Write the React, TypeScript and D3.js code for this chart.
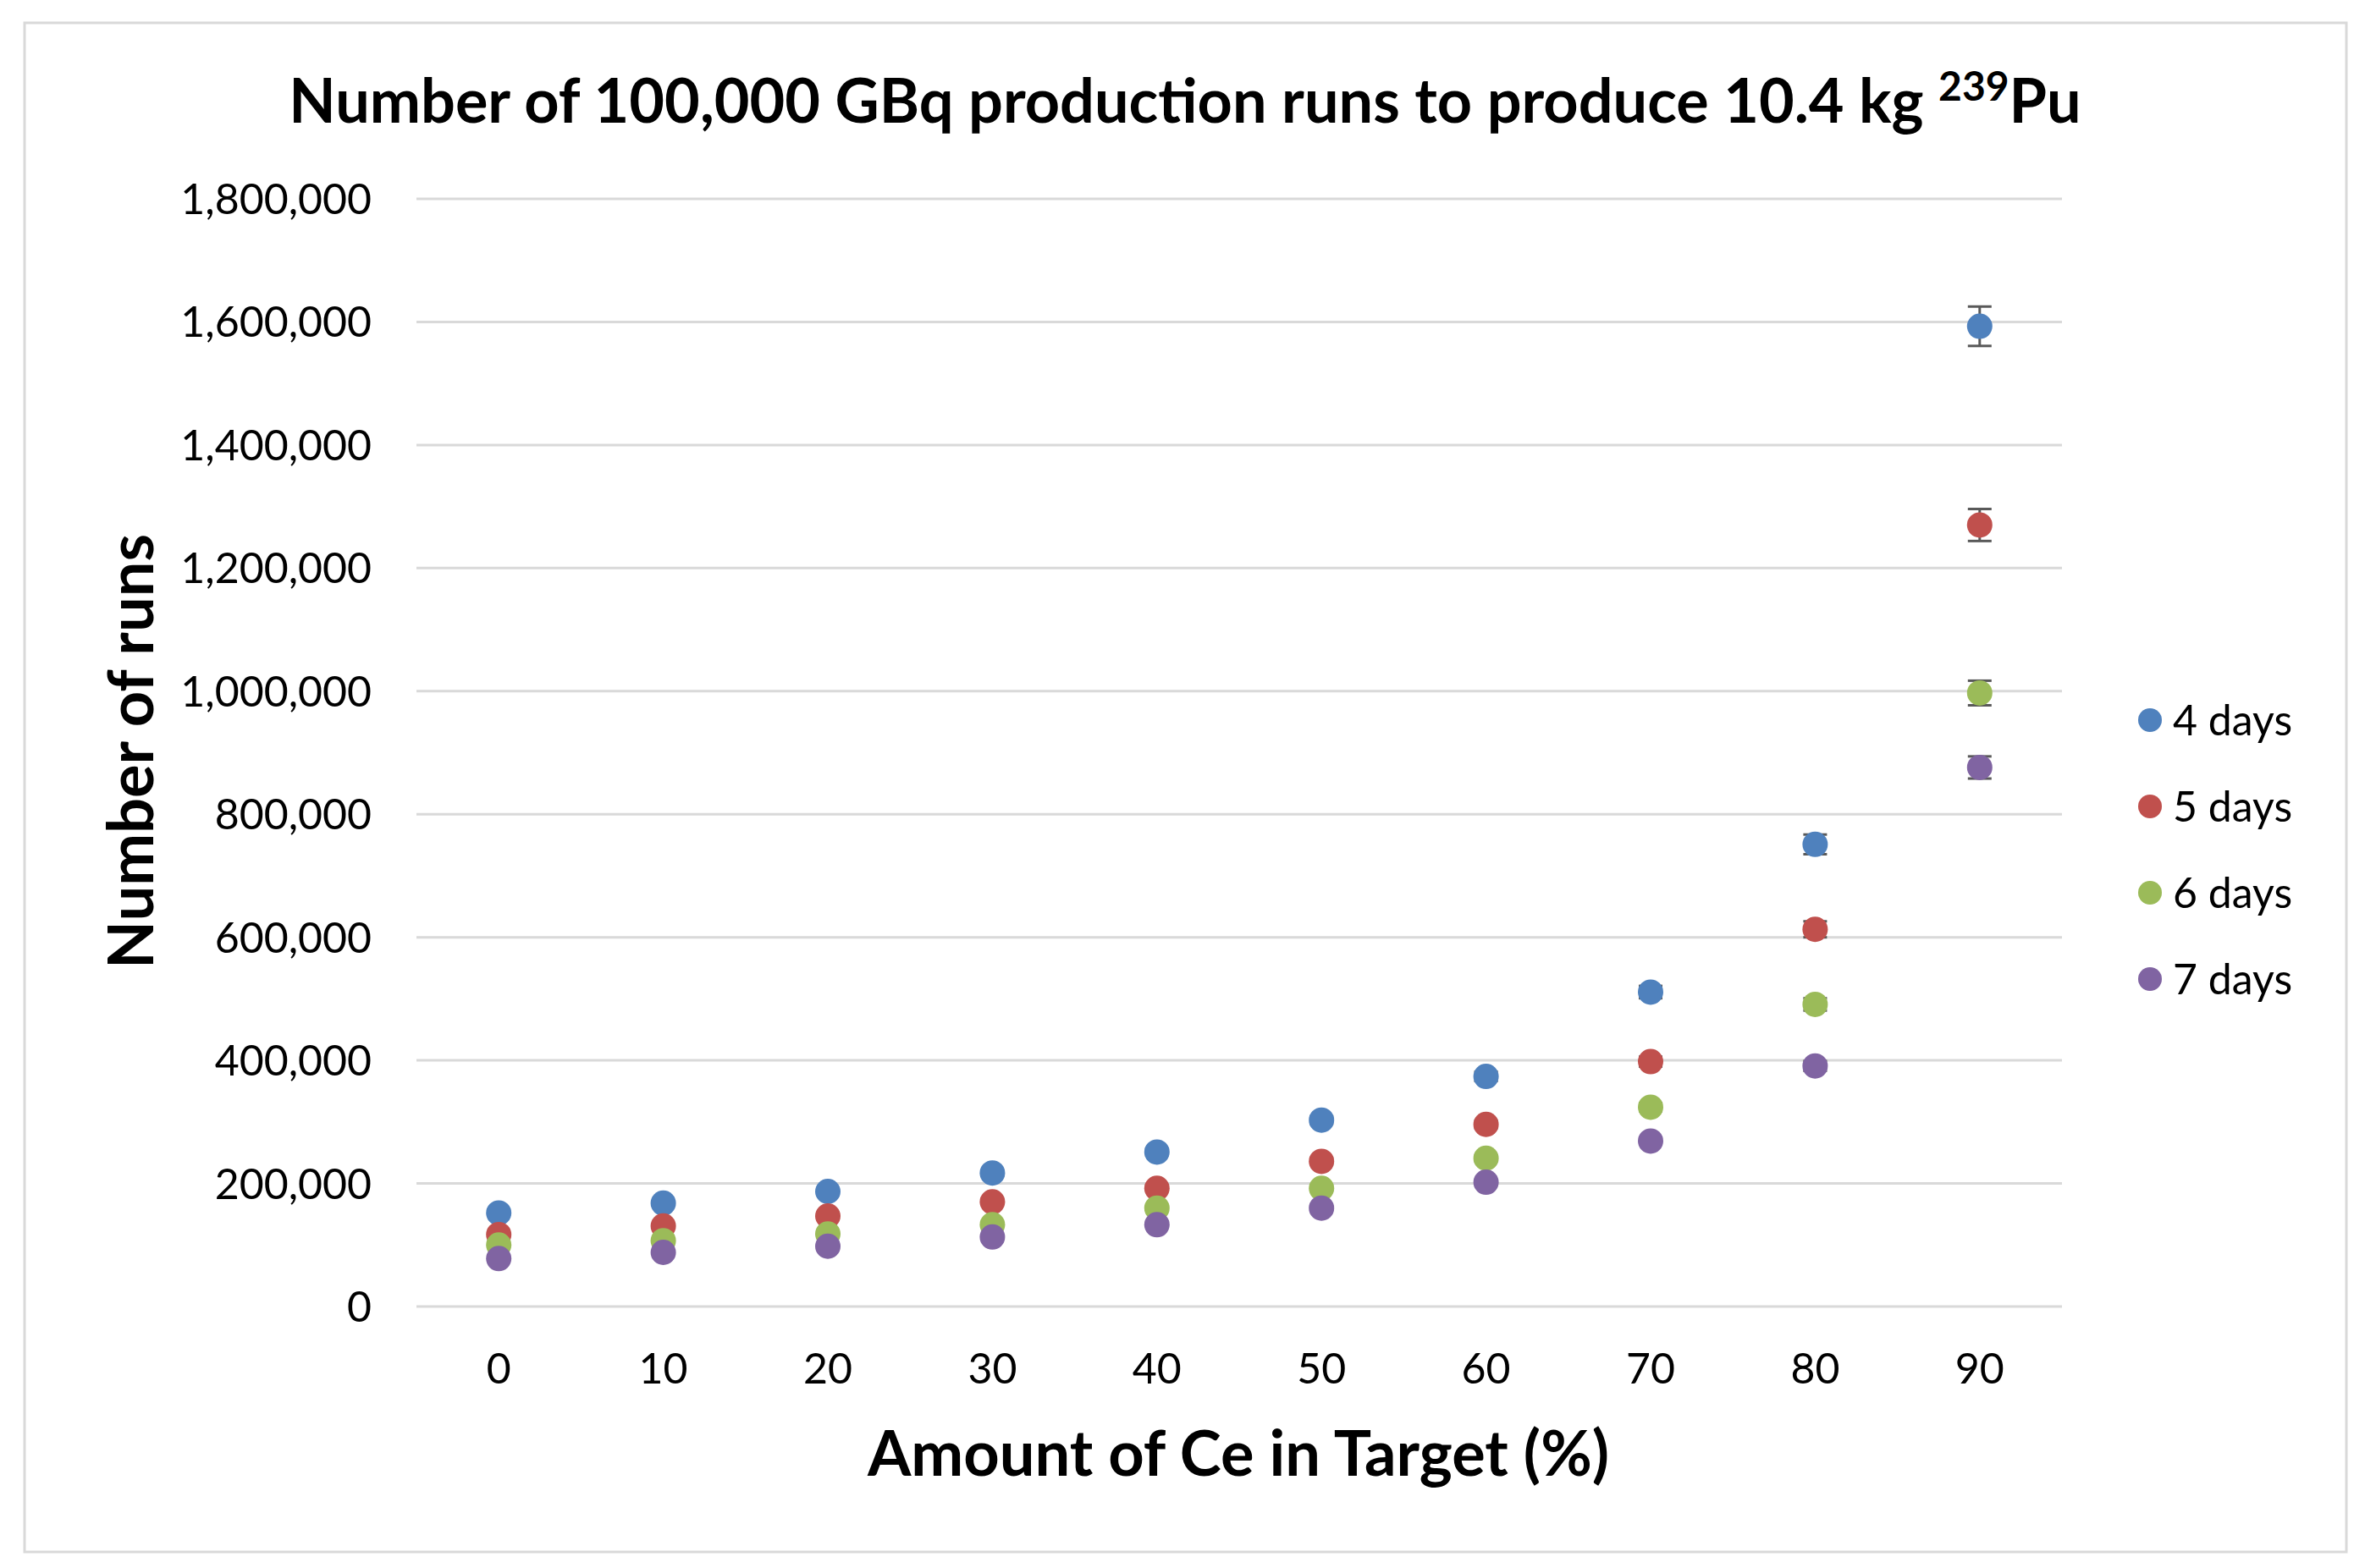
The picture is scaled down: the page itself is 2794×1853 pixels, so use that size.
import { useEffect, useRef } from "react";
import * as d3 from "d3";

const W = 2794, H = 1853;

const CE_PERCENT = ["0", "10", "20", "30", "40", "50", "60", "70", "80", "90"];
const Y_TICKS = [0, 200000, 400000, 600000, 800000, 1000000, 1200000, 1400000, 1600000, 1800000];

const SERIES_NAMES = ["4 days", "5 days", "6 days", "7 days"];
const SERIES_COLORS = ["#4F81BD", "#C0504D", "#9BBB59", "#8064A2"];

const RUNS_4D = [152000, 168000, 187000, 217000, 251000, 303000, 374000, 511000, 751000, 1593000];
const RUNS_5D = [117000, 131000, 147000, 170000, 192000, 236000, 296000, 398000, 613000, 1270000];
const RUNS_6D = [100000, 107000, 118000, 133000, 160000, 192000, 241000, 324000, 491000, 997000];
const RUNS_7D = [78000, 88000, 98000, 113000, 133000, 160000, 202000, 269000, 391000, 876000];

const ERR_4D = [3000, 3400, 3800, 4400, 5000, 6000, 7500, 10000, 16000, 32000];
const ERR_5D = [2400, 2700, 3000, 3400, 3800, 4700, 6000, 8000, 13000, 26000];
const ERR_6D = [2000, 2200, 2400, 2700, 3200, 3800, 4800, 6500, 10000, 20000];
const ERR_7D = [1600, 1800, 2000, 2300, 2700, 3200, 4000, 5400, 8000, 18000];

const SERIES = [RUNS_4D, RUNS_5D, RUNS_6D, RUNS_7D];
const ERRORS = [ERR_4D, ERR_5D, ERR_6D, ERR_7D];

export default function App() {
  const ref = useRef<SVGSVGElement>(null);
  useEffect(() => {
    const el = ref.current;
    if (!el) return;
    const svg = d3.select(el);
    svg.selectAll("*").remove();
    const font = "Lato, 'Open Sans', sans-serif";
    const M = { left: 492, right: 2436, top: 235, bottom: 1544 };

    // frame
    svg.append("rect").attr("x", 0).attr("y", 0).attr("width", W).attr("height", H).attr("fill", "#fff");
    svg.append("rect").attr("x", 29).attr("y", 27).attr("width", 2743).attr("height", 1807)
      .attr("fill", "#fff").attr("stroke", "#d9d9d9").attr("stroke-width", 3);

    const x = d3.scaleBand<string>().domain(CE_PERCENT).range([M.left, M.right]).paddingInner(0).paddingOuter(0);
    const y = d3.scaleLinear().domain([0, 1800000]).range([M.bottom, M.top]);
    const fmt = d3.format(",");

    // grid + y labels
    Y_TICKS.forEach((t) => {
      svg.append("line").attr("x1", M.left).attr("x2", M.right).attr("y1", y(t)).attr("y2", y(t))
        .attr("stroke", "#d9d9d9").attr("stroke-width", 3);
      svg.append("text").attr("x", 439).attr("y", y(t) + 18).attr("text-anchor", "end")
        .attr("font-family", font).attr("font-size", 50).attr("fill", "#000").text(fmt(t));
    });

    // x labels
    CE_PERCENT.forEach((c) => {
      svg.append("text").attr("x", (x(c) ?? 0) + x.bandwidth() / 2).attr("y", 1635).attr("text-anchor", "middle")
        .attr("font-family", font).attr("font-size", 50).attr("fill", "#000").text(c);
    });

    // error bars + points
    const cx = (i: number) => (x(CE_PERCENT[i]) ?? 0) + x.bandwidth() / 2;
    SERIES.forEach((vals, s) => {
      const g = svg.append("g");
      vals.forEach((v, i) => {
        const e = ERRORS[s][i];
        const y0 = y(v - e), y1 = y(v + e);
        g.append("line").attr("x1", cx(i)).attr("x2", cx(i)).attr("y1", y0).attr("y2", y1).attr("stroke", "#595959").attr("stroke-width", 3);
        [y0, y1].forEach((yy) => {
          g.append("line").attr("x1", cx(i) - 14).attr("x2", cx(i) + 14).attr("y1", yy).attr("y2", yy).attr("stroke", "#595959").attr("stroke-width", 3);
        });
      });
      g.selectAll("circle").data(vals).join("circle")
        .attr("cx", (_d, i) => cx(i)).attr("cy", (d) => y(d)).attr("r", 15).attr("fill", SERIES_COLORS[s]);
    });

    // legend
    SERIES_NAMES.forEach((name, i) => {
      const ly = 851 + i * 102;
      svg.append("circle").attr("cx", 2540).attr("cy", ly).attr("r", 14).attr("fill", SERIES_COLORS[i]);
      svg.append("text").attr("x", 2567).attr("y", ly + 18).attr("font-family", font).attr("font-size", 50).attr("fill", "#000").text(name);
    });

    // title
    const title = svg.append("text").attr("x", 1400).attr("y", 145).attr("text-anchor", "middle")
      .attr("font-family", font).attr("font-size", 72).attr("font-weight", "bold").attr("fill", "#000");
    title.append("tspan").text("Number of 100,000 GBq production runs to produce 10.4 kg ");
    title.append("tspan").attr("font-size", 48).attr("dy", -26).text("239");
    title.append("tspan").attr("dy", 26).text("Pu");

    // axis titles
    svg.append("text").attr("x", 1463).attr("y", 1744).attr("text-anchor", "middle")
      .attr("font-family", font).attr("font-size", 74).attr("font-weight", "bold").attr("fill", "#000")
      .text("Amount of Ce in Target (%)");
    svg.append("text").attr("transform", `translate(181,888) rotate(-90)`).attr("text-anchor", "middle")
      .attr("font-family", font).attr("font-size", 74).attr("font-weight", "bold").attr("fill", "#000")
      .text("Number of runs");
  }, []);
  return (
    <svg ref={ref} width={W} height={H} viewBox={`0 0 ${W} ${H}`}
      style={{ position: "absolute", left: 0, top: 0 }} role="img" aria-label="Number of production runs" />
  );
}
